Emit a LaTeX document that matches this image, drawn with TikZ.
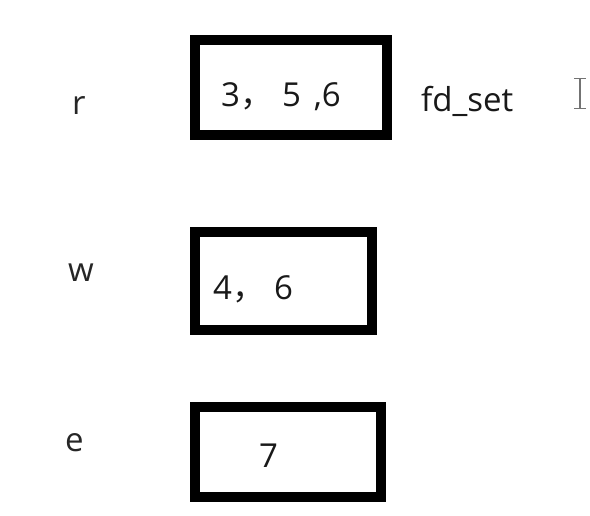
\documentclass[tikz,border=0pt]{standalone}
\usepackage{fontspec}
\setmainfont{Open Sans}
\newfontfamily\cjk{Noto Sans CJK SC}
\begin{document}
\begin{tikzpicture}[x=1pt,y=-1pt,
  setbox/.style={draw=black,line width=10pt,inner sep=0pt,outer sep=0pt,fill=white},
  txt/.style={anchor=base west,inner sep=0pt,text=black!90,font=\fontsize{33}{40}\selectfont},
  lbl/.style={anchor=base west,inner sep=0pt,text=black!85,font=\fontsize{33}{40}\selectfont}]
\useasboundingbox[fill=white] (0,0) rectangle (590,516);
% boxes
\node[setbox,minimum width=192.5pt,minimum height=95pt] (rbox) at (290.75,87.5) {};
\node[setbox,minimum width=177pt,minimum height=98.5pt] (wbox) at (283,281.25) {};
\node[setbox,minimum width=186.5pt,minimum height=90pt] (ebox) at (287.75,452) {};
% box contents
\node[txt] (rset) at (221,107) {3{\cjk ，}\hspace{9pt}5\hspace{13pt},6};
\node[txt] (wset) at (213,300) {4{\cjk ，}\hspace{9pt}6};
\node[txt] (eset) at (259,467) {7};
% labels
\node[lbl] (rl) at (72,115) {r};
\node[lbl] (wl) at (68,282) {w};
\node[lbl] (el) at (65,451) {e};
\node[txt] (fd) at (421,112) {fd\_set};
% text cursor
\draw[black!55,line width=1.8pt] (580,79) -- (580,108);
\draw[black!55,line width=1.4pt] (574,78.5) -- (586,78.5) (574,108.5) -- (586,108.5);
\end{tikzpicture}
\end{document}
